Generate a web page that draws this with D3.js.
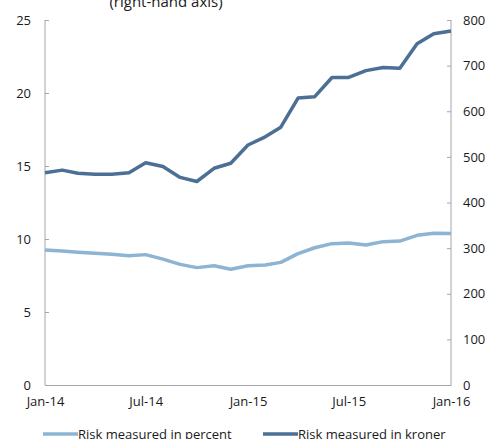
<!DOCTYPE html>
<html>
<head>
<meta charset="utf-8">
<script src="https://cdn.jsdelivr.net/npm/d3@7"></script>
<style>
  body { margin: 0; background: #fff; }
  svg text { font-family: "Open Sans", sans-serif; fill: #1a1a1a; }
</style>
</head>
<body>
<svg id="chart"></svg>
<script>
var width = 489, height = 439;

// monthly, Jan-14 .. Jan-16
var months = d3.range(25).map(function(i){ return new Date(2014, i, 1); });
var tickLabels = ["Jan-14", "Jul-14", "Jan-15", "Jul-15", "Jan-16"];
var percent = [9.25, 9.18, 9.1, 9.03, 8.96, 8.86, 8.93, 8.62, 8.26, 8.04, 8.17, 7.93, 8.17, 8.22, 8.4,
               9.0, 9.4, 9.68, 9.73, 9.59, 9.82, 9.86, 10.25, 10.39, 10.37];
var kroner = [465, 471, 464, 462, 462, 465, 487, 479, 455, 446, 475, 486, 526, 544, 565,
              629, 632, 674, 674, 689, 696, 694, 748, 770, 776];
var leftTicks = [0, 5, 10, 15, 20, 25];
var rightTicks = [0, 100, 200, 300, 400, 500, 600, 700, 800];

var margin = {top: 20, left: 45, bottom: 54, right: 38};
var chartWidth = width - margin.left - margin.right;
var chartHeight = height - margin.top - margin.bottom;

var svg = d3.select("#chart").attr("width", width).attr("height", height);

var xScale = d3.scaleTime().domain([months[0], months[24]]).range([0, chartWidth]);
var yLeft = d3.scaleLinear().domain([0, 25]).range([chartHeight, 0]);
var yRight = d3.scaleLinear().domain([0, 800]).range([chartHeight, 0]);

var g = svg.append("g").attr("transform", "translate(" + [margin.left, margin.top] + ")");

var axisColor = "#a6a6a6";

// left axis
var la = g.append("g").call(d3.axisRight(yLeft).tickValues(leftTicks).tickSize(4).tickFormat(d3.format("d")));
la.select(".domain").attr("stroke", axisColor).attr("d", "M0," + chartHeight + "V0");
la.selectAll(".tick line").attr("stroke", axisColor);
la.selectAll(".tick text").attr("x", -14).attr("text-anchor", "end").style("font-size", "13px");

// right axis
var ra = g.append("g").attr("transform", "translate(" + chartWidth + ",0)")
  .call(d3.axisLeft(yRight).tickValues(rightTicks).tickSize(4).tickFormat(d3.format("d")));
ra.select(".domain").attr("stroke", axisColor).attr("d", "M0," + chartHeight + "V0");
ra.selectAll(".tick line").attr("stroke", axisColor);
ra.selectAll(".tick text").attr("x", 12).attr("text-anchor", "start").style("font-size", "13px");

// bottom axis
var xa = g.append("g").attr("transform", "translate(0," + chartHeight + ")")
  .call(d3.axisBottom(xScale).tickValues([months[0], months[6], months[12], months[18], months[24]])
    .tickSize(0).tickFormat(function(d, i){ return tickLabels[i]; }));
xa.select(".domain").attr("stroke", axisColor);
xa.selectAll(".tick text").attr("dy", "1.35em").style("font-size", "13px");

// lines
var lineLeft = d3.line().x(function(d, i){ return xScale(months[i]); }).y(function(d){ return yLeft(d); });
var lineRight = d3.line().x(function(d, i){ return xScale(months[i]); }).y(function(d){ return yRight(d); });

g.append("path").datum(percent).attr("d", lineLeft)
  .attr("fill", "none").attr("stroke", "#8db4d2").attr("stroke-width", 3.5).attr("stroke-linejoin", "round");
g.append("path").datum(kroner).attr("d", lineRight)
  .attr("fill", "none").attr("stroke", "#4b6f95").attr("stroke-width", 3.5).attr("stroke-linejoin", "round");

// title (cut off at top)
svg.append("text").attr("x", 166).attr("y", 7).attr("text-anchor", "middle")
  .style("font-size", "15px").text("(right-hand axis)");

// legend
var legend = [
  {label: "Risk measured in percent", color: "#8db4d2", x: 43},
  {label: "Risk measured in kroner", color: "#4b6f95", x: 263}
];
var lg = svg.append("g").selectAll("g").data(legend).enter().append("g");
lg.append("line").attr("x1", function(d){ return d.x; }).attr("x2", function(d){ return d.x + 35; })
  .attr("y1", 434).attr("y2", 434).attr("stroke", function(d){ return d.color; }).attr("stroke-width", 3.5);
lg.append("text").attr("x", function(d){ return d.x + 35; }).attr("y", 439)
  .style("font-size", "13px").text(function(d){ return d.label; });
</script>
</body>
</html>
